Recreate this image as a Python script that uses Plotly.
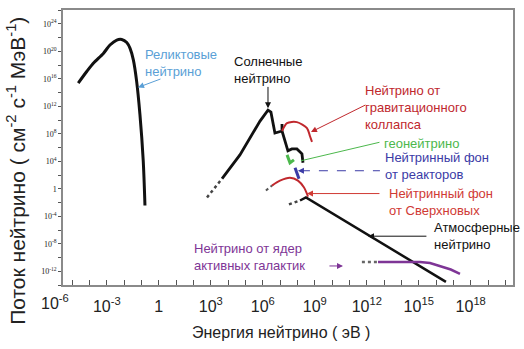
import plotly.graph_objects as go

# ---------------- data (log10 of energy in eV, log10 of flux) ----------------
relic_logE = [-4.65, -4.16, -3.78, -3.20, -2.82, -2.43, -2.14, -1.85, -1.66, -1.47, -1.28, -1.09, -0.90, -0.80]
relic_logF = [15.37, 17.05, 18.25, 19.69, 20.91, 21.63, 21.71, 21.28, 20.42, 18.74, 15.61, 10.81, 4.07, -2.43]

solar_dot_logE = [2.78, 3.65]
solar_dot_logF = [-1.27, 1.47]

solar_logE = [3.65, 4.68, 5.84, 6.30, 6.47, 6.70, 7.11, 7.11, 7.11, 7.45, 7.68, 7.97, 8.26, 8.32]
solar_logF = [1.47, 4.93, 9.84, 11.43, 11.14, 8.11, 8.40, 9.41, 8.40, 5.51, 5.80, 5.80, 5.08, 3.78]

collapse_logE = [7.11, 7.40, 7.97, 8.55, 8.72, 8.84]
collapse_logF = [8.40, 9.55, 9.69, 8.83, 7.67, 6.82]

geo_logE = [7.40, 7.57, 7.80]
geo_logF = [4.93, 3.78, 4.20]

reactor_logE = [7.86, 7.97, 8.09]
reactor_logF = [3.06, 2.34, 1.47]

snr_dot_logE = [6.18, 6.53]
snr_dot_logF = [-0.26, 0.46]
snr_logE = [6.53, 6.99, 7.57, 8.03, 8.38, 8.61]
snr_logF = [0.46, 1.18, 1.61, 1.18, 0.17, -1.13]

atm_dot_logE = [7.51, 8.15]
atm_dot_logF = [-2.28, -1.71]
atm_logE = [8.15, 8.49, 16.57]
atm_logF = [-1.71, -1.27, -13.54]

agn_dot_logE = [11.72, 12.65]
agn_dot_logF = [-10.65, -10.65]
agn_logE = [12.65, 15.07, 15.65, 16.24, 16.85, 17.38]
agn_logF = [-10.65, -10.65, -10.80, -11.23, -11.75, -12.38]

x_tick_exp = [-6, -3, 0, 3, 6, 9, 12, 15, 18]
x_tick_text = ["10<sup>-6</sup>", "10<sup>-3</sup>", "1", "10<sup>3</sup>", "10<sup>6</sup>",
               "10<sup>9</sup>", "10<sup>12</sup>", "10<sup>15</sup>", "10<sup>18</sup>"]
y_tick_exp = [-12, -8, -4, 0, 4, 8, 12, 16, 20, 24]
y_tick_text = ["10<sup>-12</sup>", "10<sup>-8</sup>", "10<sup>-4</sup>", "1", "10<sup>4</sup>",
               "10<sup>8</sup>", "10<sup>12</sup>", "10<sup>16</sup>", "10<sup>20</sup>", "10<sup>24</sup>"]

# ---------------- figure ----------------
BLACK = "#111111"
RED1 = "#c0282d"
RED2 = "#d03a34"
GREEN = "#4cb84c"
BLUE = "#3b3ba6"
PURPLE = "#7e3596"
LBLUE = "#5a9fd6"

def p10(v):
    return [10.0 ** a for a in v]

fig = go.Figure()

def add(xs, ys, color, width, dash="solid", shape="linear"):
    fig.add_trace(go.Scatter(x=p10(xs), y=p10(ys), mode="lines",
                             line=dict(color=color, width=width, dash=dash, shape=shape,
                                       smoothing=0.8 if shape == "spline" else None),
                             hoverinfo="skip", showlegend=False))

add(relic_logE, relic_logF, BLACK, 3, shape="spline")
add(solar_dot_logE, solar_dot_logF, "#444444", 2.5, "dot")
add(solar_logE, solar_logF, BLACK, 2.8)
add(collapse_logE, collapse_logF, RED1, 2, shape="spline")
add(geo_logE, geo_logF, GREEN, 3)
add(reactor_logE, reactor_logF, BLUE, 3)
add(snr_dot_logE, snr_dot_logF, "#555555", 2, "dot")
add(snr_logE, snr_logF, RED1, 2, shape="spline")
add(atm_dot_logE, atm_dot_logF, "#444444", 2.5, "dot")
add(atm_logE, atm_logF, BLACK, 2.5)
add(agn_dot_logE, agn_dot_logF, "#666666", 2.5, "dot")
add(agn_logE, agn_logF, PURPLE, 2.5)

TXT = "Liberation Sans, Arial, sans-serif"

x_in = [(e, t) for e, t in zip(x_tick_exp, x_tick_text) if e > -5.53]
x_minor = [e for e in range(-5, 21) if e not in x_tick_exp]
y_minor = [e for e in range(-14, 27, 2) if e not in y_tick_exp]

fig.update_layout(
    width=524, height=349,
    margin=dict(l=63, r=11, t=8, b=64),
    paper_bgcolor="white", plot_bgcolor="white",
    showlegend=False,
    xaxis=dict(type="log", range=[-5.53, 20.44],
               tickvals=[10.0 ** e for e, _ in x_in],
               ticktext=[t for _, t in x_in],
               ticks="inside", ticklen=5, tickwidth=1, tickcolor="#555555",
               minor=dict(tickvals=[10.0 ** e for e in x_minor], ticks="inside",
                          ticklen=5, tickwidth=1, tickcolor="#555555", showgrid=False),
               showline=True, linecolor="#8a8a8a", linewidth=1.5, mirror=True,
               showgrid=False, zeroline=False,
               tickfont=dict(family=TXT, size=16, color="#222222"),
               ticklabelstandoff=6),
    yaxis=dict(type="log", range=[-14, 26],
               tickvals=[10.0 ** e for e in y_tick_exp],
               ticktext=y_tick_text,
               ticks="outside", ticklen=3, tickwidth=1, tickcolor="#555555",
               minor=dict(tickvals=[10.0 ** e for e in y_minor], ticks="outside",
                          ticklen=3, tickwidth=1, tickcolor="#555555", showgrid=False),
               showline=True, linecolor="#8a8a8a", linewidth=1.5, mirror=True,
               showgrid=False, zeroline=False,
               tickfont=dict(family="Liberation Serif, Times New Roman, serif", size=8, color="#222222")),
)

def px(xp):
    return (xp - 63) / 450.0

def py(yp):
    return (285 - yp) / 277.0

ann = []
# x tick label that lies left of the axis range (x=10^-6)
ann.append(dict(x=px(55), xref="paper", y=py(302), yref="paper", text=x_tick_text[0],
                showarrow=False, xanchor="center", yanchor="middle",
                font=dict(family=TXT, size=16, color="#222222")))
# axis titles
ann.append(dict(x=px(281), y=py(333), xref="paper", yref="paper",
                text="Энергия нейтрино ( эВ )", showarrow=False,
                xanchor="center", yanchor="middle",
                font=dict(family=TXT, size=16, color="#222222")))
ann.append(dict(x=px(16), y=py(170), xref="paper", yref="paper", textangle=-90,
                xanchor="center", yanchor="middle",
                text="Поток нейтрино ( см<sup>-2</sup> с<sup>-1</sup> МэВ<sup>-1</sup>)",
                showarrow=False, font=dict(family=TXT, size=21, color="#222222")))

def label(xp, yp, text, color):
    ann.append(dict(x=px(xp), y=py(yp), xref="paper", yref="paper", text=text,
                    showarrow=False, xanchor="left", yanchor="middle", align="left",
                    font=dict(family=TXT, size=13, color=color)))

label(143, 61.5, "Реликтовые<br>нейтрино", LBLUE)
label(232, 68, "Солнечные<br>нейтрино", BLACK)
label(363, 106, "Нейтрино от<br>гравитационного<br>коллапса", RED1)
label(382, 142.5, "геонейтрино", GREEN)
label(383, 165, "Нейтринный фон<br>от реакторов", BLUE)
label(387, 201.5, "Нейтринный фон<br>от Сверхновых", RED2)
label(432, 235.5, "Атмосферные<br>нейтрино", BLACK)
label(192, 256.5, "Нейтрино от ядер<br>активных галактик", PURPLE)

def arrow(hx, hy, tx, ty, color, head=2, width=1):
    ann.append(dict(x=hx, y=hy, ax=tx, ay=ty, xref="x", yref="y", axref="x", ayref="y",
                    text="", showarrow=True, arrowhead=head, arrowsize=1.2,
                    arrowwidth=width, arrowcolor=color))

arrow(-1.20, 14.74, 0.18, 16.04, LBLUE)
arrow(6.30, 11.71, 6.30, 15.03, BLACK)
arrow(8.78, 8.25, 12.01, 12.29, RED1)
arrow(8.20, 4.07, 12.82, 6.81, GREEN, head=0)
arrow(8.03, 2.62, 8.40, 2.62, BLUE)
arrow(8.55, -0.70, 12.82, -0.70, RED2)
arrow(12.07, -6.90, 15.53, -6.90, BLACK)
arrow(10.63, -11.23, 9.76, -11.23, PURPLE)

fig.update_layout(annotations=ann)
# dashed leader for the reactor label (shape coords on a log axis are data values)
fig.add_shape(type="line", xref="x", yref="y", x0=10.0 ** 8.20, x1=10.0 ** 12.76,
              y0=10.0 ** 2.62, y1=10.0 ** 2.62,
              line=dict(color=BLUE, width=1, dash="dash"))

fig.write_html("out.html")
